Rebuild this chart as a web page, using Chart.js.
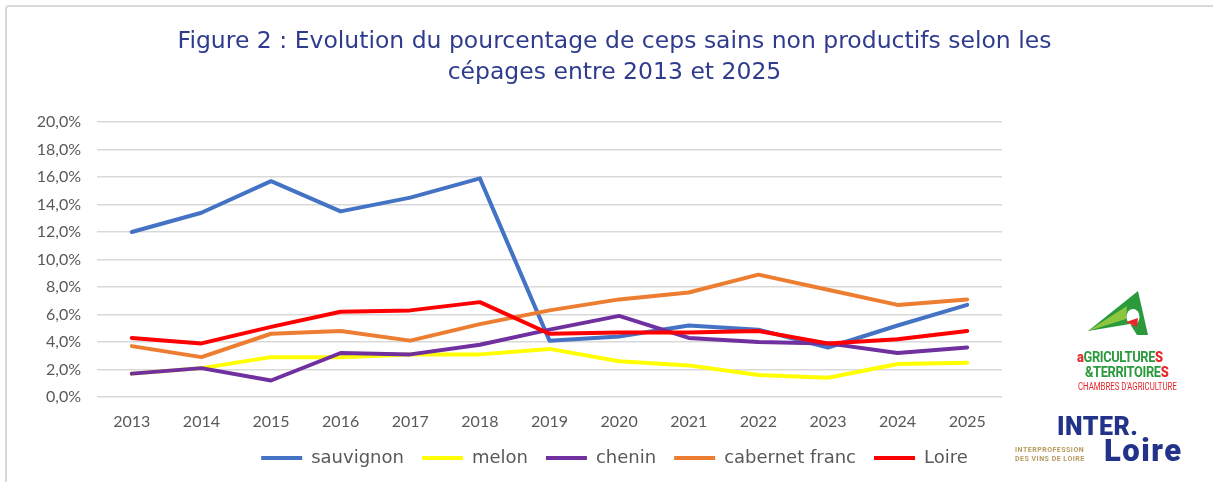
<!DOCTYPE html>
<html>
<head>
<meta charset="utf-8">
<script src="https://cdn.jsdelivr.net/npm/chart.js@4/dist/chart.umd.min.js"></script>
<style>
  html, body { margin: 0; padding: 0; background: #fff; }
  #wrap { position: relative; width: 1213px; height: 482px; overflow: hidden; }
  #frame { position: absolute; left: 5px; top: 5px; width: 1240px; height: 500px;
           border: 2px solid #d9d9d9; border-radius: 4px; box-sizing: border-box; }
  #c { position: absolute; left: 0; top: 0; }
  .logo { position: absolute; font-family: Roboto, "DejaVu Sans", sans-serif; white-space: nowrap; }
  #agri1, #agri2 { font-size: 14px; font-weight: 700; color: #2a9a3c; letter-spacing: -0.4px;
                   transform: scaleX(0.92); transform-origin: left top; }
  #agri1 { left: 1077px; top: 349px; }
  #agri2 { left: 1085px; top: 364px; }
  #agri1 b, #agri2 b { color: #e8262b; }
  #agri3 { left: 1078px; top: 381px; font-size: 10px; font-weight: 400; color: #e8262b;
           transform: scaleX(0.78); transform-origin: left top; }
  #inter { left: 1057px; top: 412px; font-size: 25px; font-weight: 900; color: #23338a; letter-spacing: 0.5px; }
  #loire { left: 1104px; top: 432px; font-size: 31px; font-weight: 900; color: #23338a; letter-spacing: 1.5px; }
  #interpro { left: 1015px; top: 446px; font-size: 7px; font-weight: 700; color: #b59a5c; line-height: 8.5px; letter-spacing: 0.5px; }
</style>
</head>
<body>
<div id="wrap">
  <div id="frame"></div>
  <canvas id="c" width="1213" height="482"></canvas>
  <svg class="logo" style="left:1080px;top:288px" width="72" height="52" viewBox="0 0 72 52">
    <path d="M8 43 L58 3 L68 47 L57 47 L50 36 Z" fill="#2a9a3c"/>
    <path d="M8 43 L47 18 L46 31 Z" fill="#8cc63f"/>
    <ellipse cx="53" cy="29" rx="6.5" ry="8" fill="#fff"/>
    <path d="M46 34 L58 30 L57 39 Z" fill="#e8262b"/>
  </svg>
  <div class="logo" id="agri1"><b>a</b>GRICULTURE<b>S</b></div>
  <div class="logo" id="agri2">&amp;TERRITOIRE<b>S</b></div>
  <div class="logo" id="agri3">CHAMBRES D'AGRICULTURE</div>
  <div class="logo" id="inter">INTER.</div>
  <div class="logo" id="loire">Loire</div>
  <div class="logo" id="interpro">INTERPROFESSION<br>DES VINS DE LOIRE</div>
</div>
<script>
const years = ['2013', '2014', '2015', '2016', '2017', '2018', '2019', '2020', '2021', '2022', '2023', '2024', '2025'];
const sauvignon = [12.0, 13.4, 15.7, 13.5, 14.5, 15.9, 4.1, 4.4, 5.2, 4.9, 3.6, 5.2, 6.7];
const melon = [1.7, 2.1, 2.9, 2.9, 3.1, 3.1, 3.5, 2.6, 2.3, 1.6, 1.4, 2.4, 2.5];
const chenin = [1.7, 2.1, 1.2, 3.2, 3.1, 3.8, 4.9, 5.9, 4.3, 4.0, 3.9, 3.2, 3.6];
const cabernet = [3.7, 2.9, 4.6, 4.8, 4.1, 5.3, 6.3, 7.1, 7.6, 8.9, 7.8, 6.7, 7.1];
const loire = [4.3, 3.9, 5.1, 6.2, 6.3, 6.9, 4.6, 4.7, 4.7, 4.8, 3.9, 4.2, 4.8];

const grey = '#595959';

function serie(label, data, color, order) {
  return {
    label: label,
    data: data,
    borderColor: color,
    backgroundColor: color,
    borderWidth: 4,
    borderCapStyle: 'round',
    borderJoinStyle: 'round',
    pointRadius: 0,
    tension: 0,
    order: order
  };
}

new Chart(document.getElementById('c'), {
  type: 'line',
  data: {
    labels: years,
    datasets: [
      serie('sauvignon', sauvignon, '#4472C4', 4),
      serie('melon', melon, '#FFFF00', 3),
      serie('chenin', chenin, '#7030A0', 2),
      serie('cabernet franc', cabernet, '#ED7D31', 1),
      serie('Loire', loire, '#FF0000', 0)
    ]
  },
  options: {
    responsive: false,
    animation: false,
    layout: { padding: { left: 16, right: 0, top: 0, bottom: 5 } },
    plugins: {
      tooltip: { enabled: false },
      title: {
        display: true,
        text: ['Figure 2 : Evolution du pourcentage de ceps sains non productifs selon les', 'cépages entre 2013 et 2025'],
        color: '#2F3C8E',
        font: { family: 'DejaVu Sans', size: 23.5, weight: 'normal', lineHeight: 1.32 },
        padding: { top: 26, bottom: 34 }
      },
      legend: {
        position: 'bottom',
        labels: {
          sort: (a, b) => a.datasetIndex - b.datasetIndex,
          usePointStyle: true,
          pointStyle: 'line',
          pointStyleWidth: 41,
          padding: 18,
          color: grey,
          font: { family: 'DejaVu Sans', size: 18 }
        }
      }
    },
    scales: {
      x: {
        offset: true,
        grid: { display: false },
        border: { display: false },
        ticks: { color: grey, padding: 7, font: { family: 'Lato', size: 16 } },
        afterFit: (s) => { s.height = 34; }
      },
      y: {
        min: 0,
        max: 20,
        ticks: {
          stepSize: 2,
          color: grey,
          padding: 16,
          font: { family: 'Lato', size: 16 },
          callback: (v) => v.toFixed(1).replace('.', ',') + '%'
        },
        grid: { color: '#d9d9d9', lineWidth: 1.5, drawTicks: false },
        border: { display: false },
        afterFit: (s) => { s.width = 81; }
      },
      y2: {
        position: 'right',
        display: true,
        grid: { display: false },
        border: { display: false },
        ticks: { display: false },
        afterFit: (s) => { s.width = 211; }
      }
    }
  }
});
</script>
</body>
</html>
